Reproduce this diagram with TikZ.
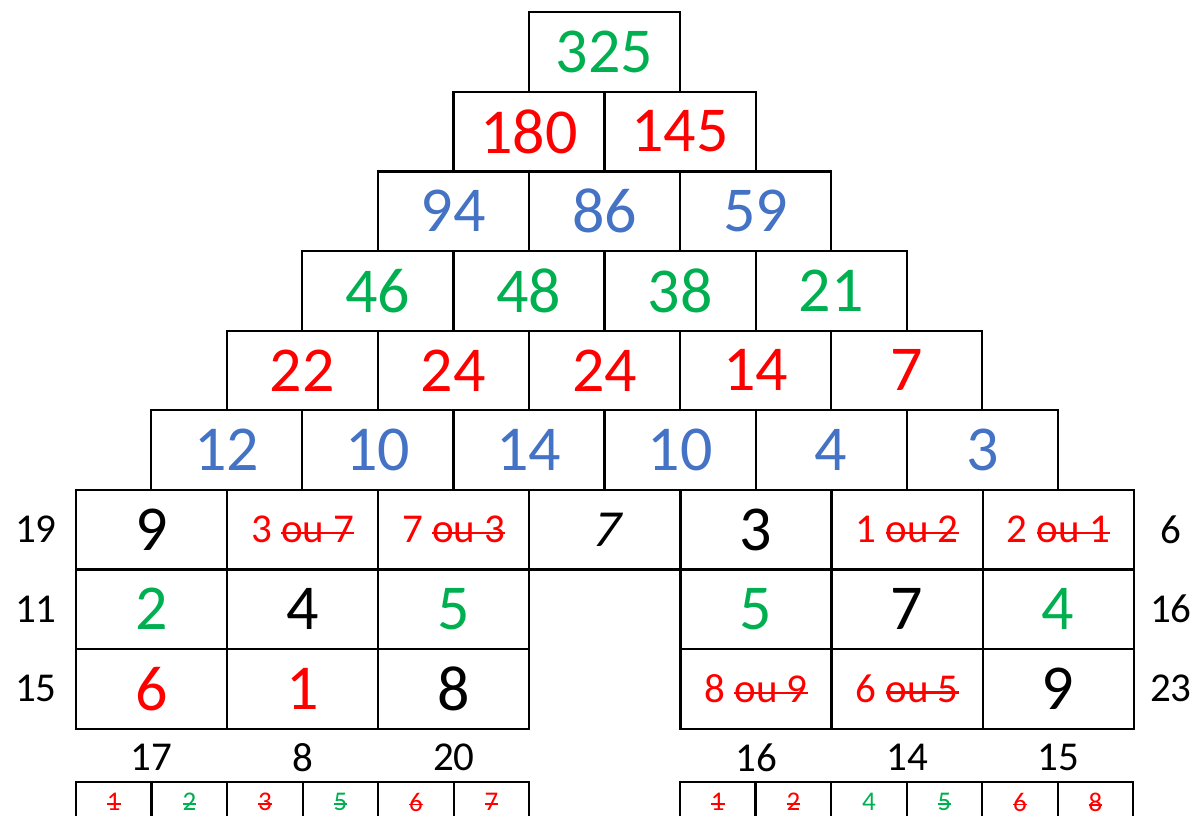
\documentclass[tikz,border=0pt]{standalone}
\usepackage{fontspec}
\setmainfont{Carlito}
\newfontfamily\penche{Carlito}[FakeSlant=0.22]
\usetikzlibrary{calc}
\definecolor{vert}{RGB}{0,176,80}
\definecolor{rouge}{RGB}{255,0,0}
\definecolor{bleu}{RGB}{68,114,196}
\newcommand{\moyen}{\fontsize{41}{46}\selectfont}
\newsavebox{\boitebarre}
\newcommand{\barre}[2][2.6pt]{\sbox{\boitebarre}{#2}\rlap{\rule[\dimexpr0.24em-#1/2\relax]{\wd\boitebarre}{#1}}\usebox{\boitebarre}}
\newcommand{\petitbarre}[1]{\barre[1.8pt]{#1}}

\begin{document}
\begin{tikzpicture}[x=1pt, y=-1pt,
		cell/.style={draw, line width=2.2pt, minimum width=151.1pt, minimum height=79.6pt, inner sep=0pt, font=\fontsize{64}{70}\selectfont},
		case/.style={draw, line width=2.2pt, minimum width=75.55pt, minimum height=40pt, inner sep=0pt, font=\fontsize{27}{30}\selectfont},
		etiquette/.style={inner sep=0pt, font=\moyen}]
	% Define parameters
	\def\larg{151.1} % Cell width
	\def\haut{79.6}  % Cell height
	
	% Page frame
	\useasboundingbox (0,0) rectangle (1195,816);
	\clip (0,0) rectangle (1195,816);
	
	% Pyramid of sums
	\foreach \ligne/\couleur/\valeurs in {0/vert/{325}, 1/rouge/{180,145}, 2/bleu/{94,86,59}, 3/vert/{46,48,38,21}, 4/rouge/{22,24,24,14,7}, 5/bleu/{12,10,14,10,4,3}} {
		\foreach \v [count=\c from 0] in \valeurs {
			\node[cell, text=\couleur] (p-\ligne-\c) at ({604.5+(\c-\ligne/2)*\larg}, {52+\ligne*\haut}) {\v};
		}
	}
	
	% Grid, first row
	\foreach \col/\couleur/\texte in {0/black/9, 1/rouge/{\moyen 3 \barre{ou 7}}, 2/rouge/{\moyen 7 \barre{ou 3}}, 3/black/{\fontsize{52}{56}\selectfont\penche 7}, 4/black/3, 5/rouge/{\moyen 1 \barre{ou 2}}, 6/rouge/{\moyen 2 \barre{ou 1}}} {
		\node[cell, text=\couleur] (g-0-\col) at ({151.6+\col*\larg}, {52+6*\haut}) {\texte};
	}
	% Grid, second row
	\foreach \col/\couleur/\texte in {0/vert/2, 1/black/4, 2/vert/5, 4/vert/5, 5/black/7, 6/vert/4} {
		\node[cell, text=\couleur] (g-1-\col) at ({151.6+\col*\larg}, {52+7*\haut}) {\texte};
	}
	% Grid, third row
	\foreach \col/\couleur/\texte in {0/rouge/6, 1/rouge/1, 2/black/8, 4/rouge/{\moyen 8 \barre{ou 9}}, 5/rouge/{\moyen 6 \barre{ou 5}}, 6/black/9} {
		\node[cell, text=\couleur] (g-2-\col) at ({151.6+\col*\larg}, {52+8*\haut}) {\texte};
	}
	
	% Row sums
	\foreach \l/\gauche/\droite in {0/19/6, 1/11/16, 2/15/23} {
		\node[etiquette] (sg-\l) at ($(g-\l-0.west)+(-39,0)$) {\gauche};
		\node[etiquette] (sd-\l) at ($(g-\l-6.east)+(36,0)$) {\droite};
	}
	
	% Column sums
	\foreach \col/\somme in {0/17, 1/8, 2/20, 4/16, 5/14, 6/15} {
		\node[etiquette] (sc-\col) at ($(g-2-\col.south)+(0,28)$) {\somme};
	}
	
	% Digits used, left block
	\foreach \k/\couleur/\texte in {0/rouge/\petitbarre{1}, 1/vert/\petitbarre{2}, 2/rouge/\petitbarre{3}, 3/vert/\petitbarre{5}, 4/rouge/\petitbarre{6}, 5/rouge/\petitbarre{7}} {
		\node[case, text=\couleur] (cg-\k) at ({113.8+\k*75.55}, 802) {\texte};
	}
	% Digits used, right block
	\foreach \k/\couleur/\texte in {0/rouge/\petitbarre{1}, 1/rouge/\petitbarre{2}, 2/vert/4, 3/vert/\petitbarre{5}, 4/rouge/\petitbarre{6}, 5/rouge/\petitbarre{8}} {
		\node[case, text=\couleur] (cd-\k) at ({717.8+\k*75.55}, 802) {\texte};
	}
	
\end{tikzpicture}
\end{document}
